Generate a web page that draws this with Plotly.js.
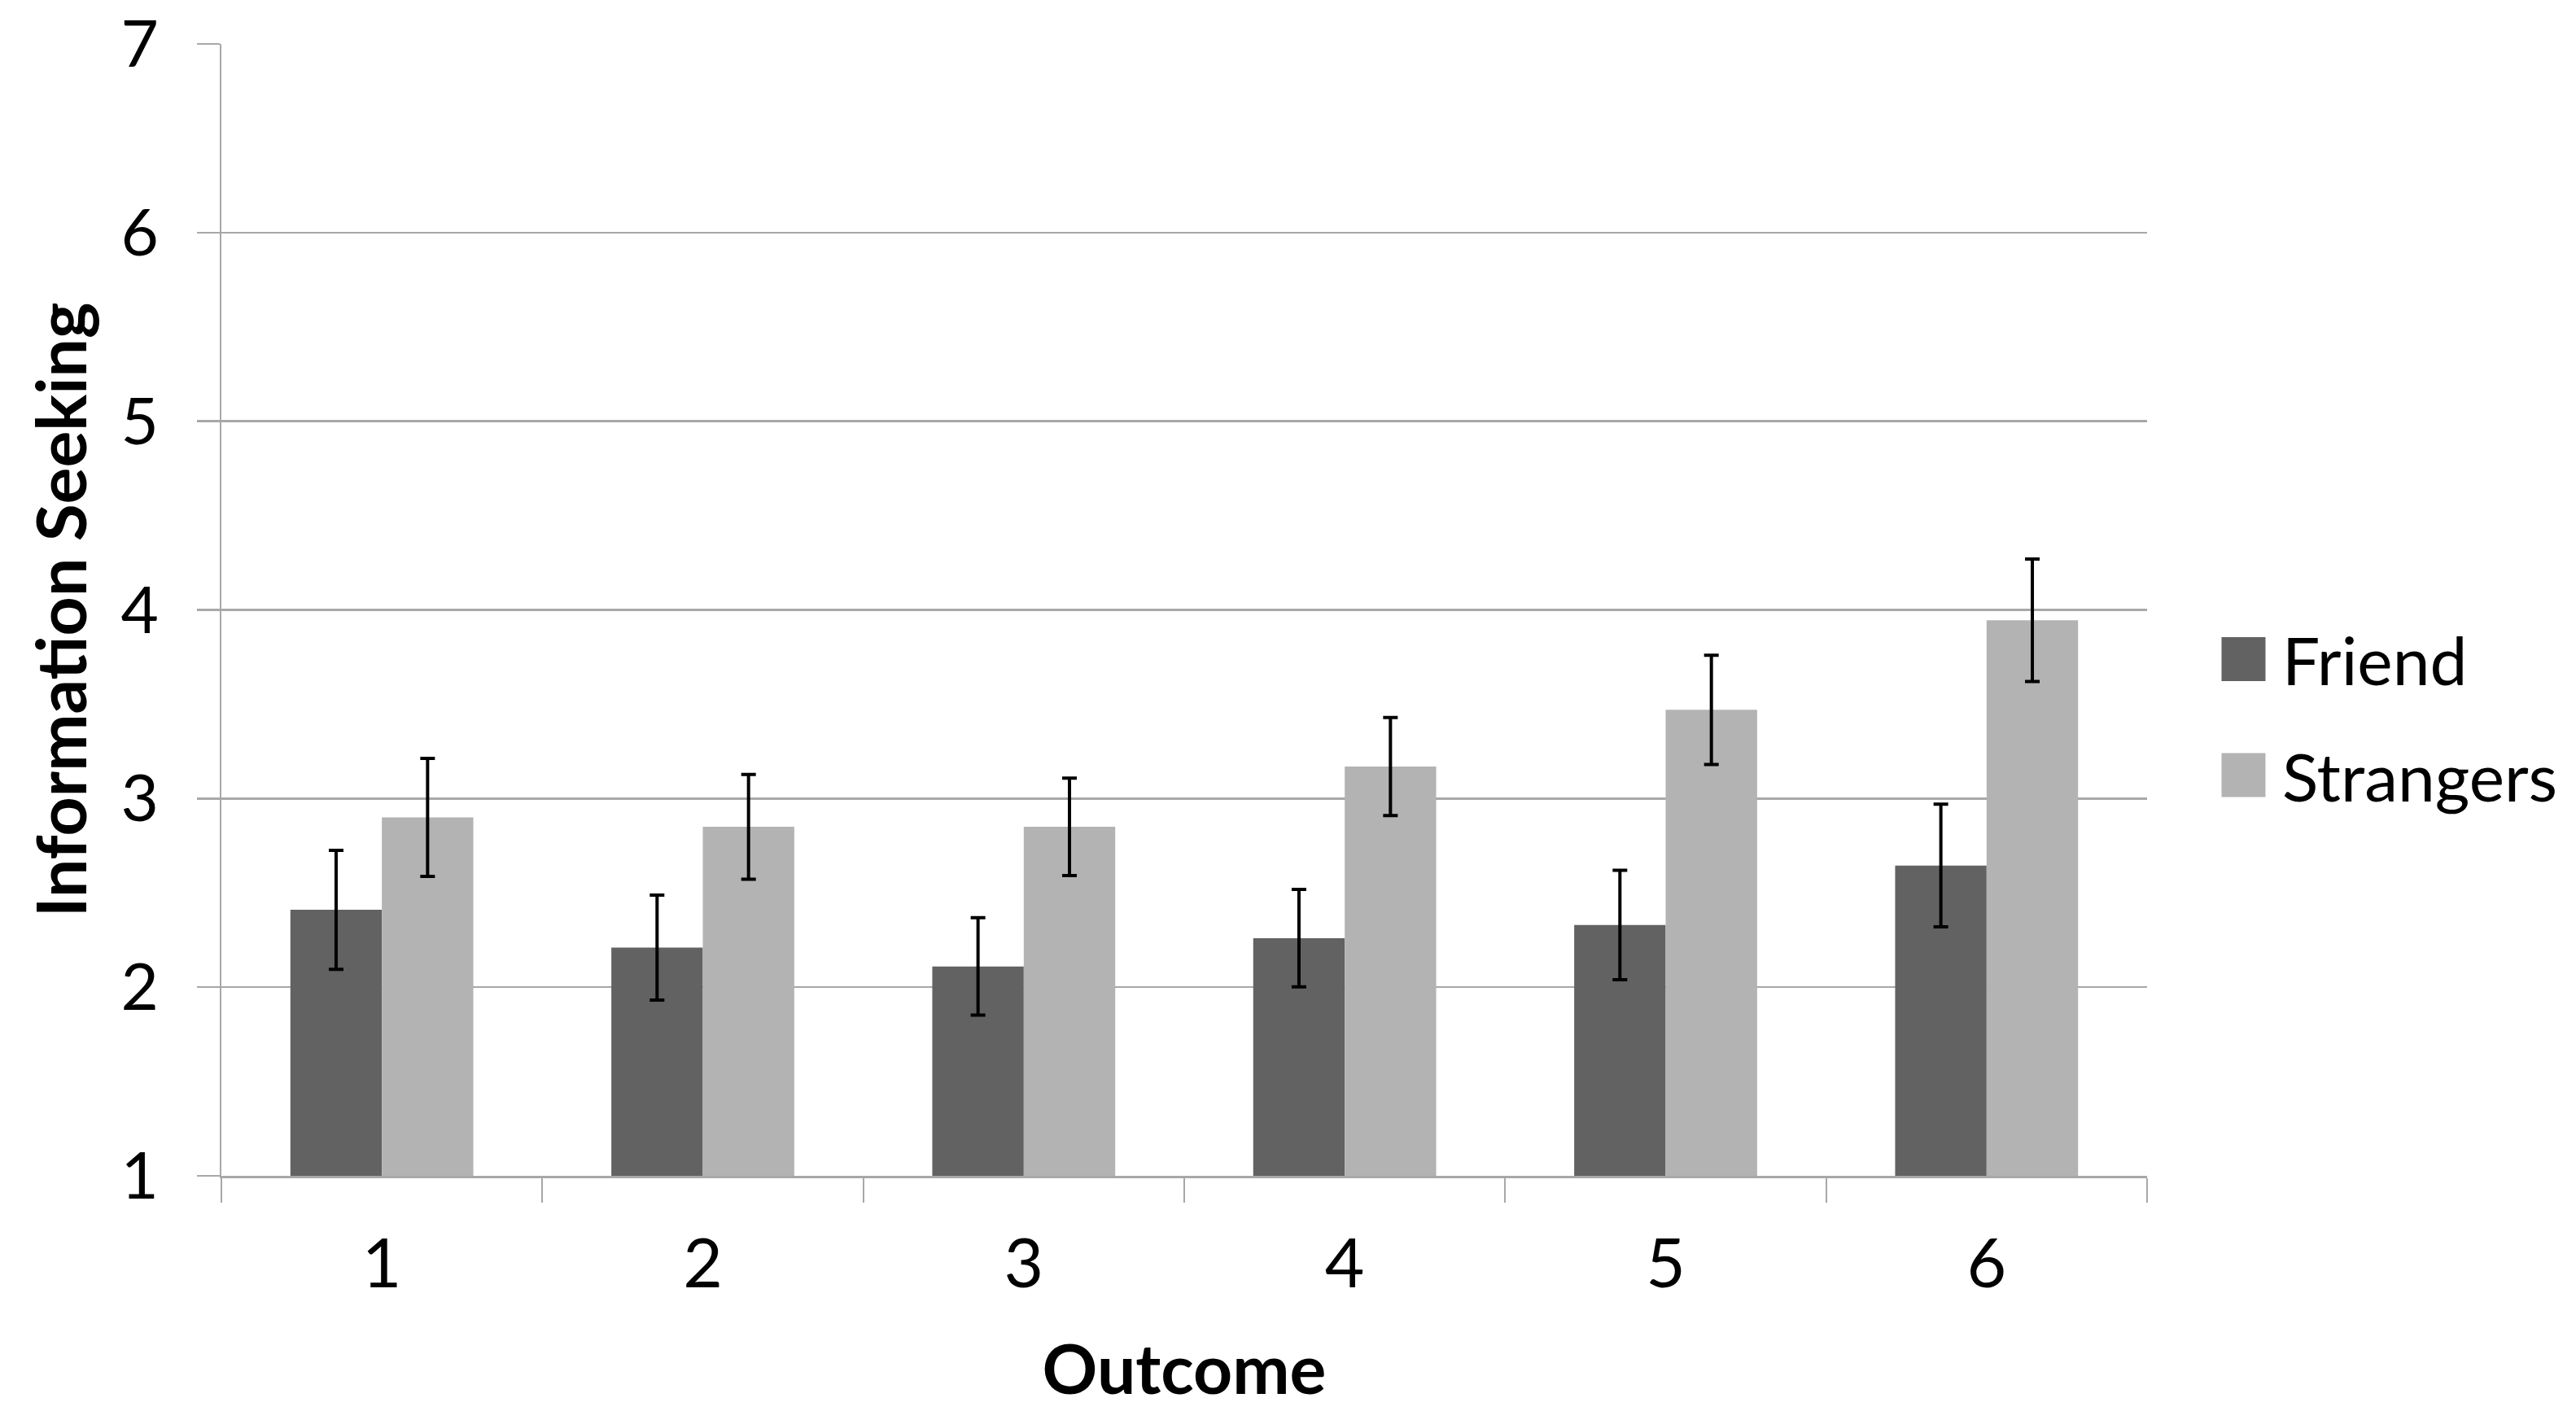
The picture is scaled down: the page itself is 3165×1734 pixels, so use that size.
<!DOCTYPE html>
<html>
<head>
<meta charset="utf-8">
<script src="https://cdn.plot.ly/plotly-3.0.1.min.js"></script>
<style>
html,body{margin:0;padding:0;background:#fff;}
#chart{width:3165px;height:1734px;}
</style>
</head>
<body>
<div id="chart"></div>
<script>
const outcomes = ['1', '2', '3', '4', '5', '6'];
const friendMeans = [2.41, 2.21, 2.11, 2.26, 2.33, 2.645];
const friendErr = [0.315, 0.278, 0.258, 0.258, 0.29, 0.325];
const strangerMeans = [2.90, 2.85, 2.85, 3.17, 3.47, 3.945];
const strangerErr = [0.313, 0.278, 0.258, 0.26, 0.29, 0.325];
const seriesNames = ['Friend', 'Strangers'];
const yTicks = [1, 2, 3, 4, 5, 6, 7];

const FONT = 'Lato, "Open Sans", sans-serif';
const GRID = '#a8a8a8';

const errStyle = {type: 'data', visible: true, color: '#000', thickness: 4, width: 9};

const traces = [
  {
    type: 'bar', name: seriesNames[0], x: outcomes, y: friendMeans,
    marker: {color: '#626262', line: {width: 0}},
    error_y: Object.assign({array: friendErr}, errStyle),
    legendgroup: 'a'
  },
  {
    type: 'bar', name: seriesNames[1], x: outcomes, y: strangerMeans,
    marker: {color: '#b3b3b3', line: {width: 0}},
    error_y: Object.assign({array: strangerErr}, errStyle),
    legendgroup: 'b'
  }
];

const layout = {
  width: 3165, height: 1734,
  paper_bgcolor: '#fff', plot_bgcolor: '#fff',
  margin: {l: 272, r: 527, t: 54, b: 289},
  font: {family: FONT, color: '#000'},
  barmode: 'group', bargap: 0.43, bargroupgap: 0,
  showlegend: true,
  legend: {
    x: 1.03, xanchor: 'left', y: 0.405, yanchor: 'middle',
    font: {size: 82, family: FONT, color: '#000'},
    itemwidth: 85, tracegroupgap: 33, bgcolor: 'rgba(0,0,0,0)', borderwidth: 0
  },
  xaxis: {
    type: 'category', categoryorder: 'array', categoryarray: outcomes,
    showline: true, linecolor: GRID, linewidth: 2.5,
    ticks: 'outside', tickson: 'boundaries', ticklen: 30, tickcolor: GRID, tickwidth: 2,
    tickfont: {size: 84, family: FONT, color: '#000'},
    ticklabelstandoff: 34,
    showgrid: false, zeroline: false,
    title: {text: 'Outcome', font: {size: 84, family: FONT, weight: 'bold', color: '#000'}, standoff: 55}
  },
  yaxis: {
    range: [1, 7], tickvals: yTicks, ticktext: yTicks.map(String),
    showline: true, linecolor: GRID, linewidth: 2,
    ticks: 'outside', ticklen: 28, tickcolor: GRID, tickwidth: 2.5,
    tickfont: {size: 80, family: FONT, color: '#000'},
    ticklabelstandoff: 31,
    showgrid: true, gridcolor: GRID, gridwidth: 2.5, zeroline: false,
    title: {text: 'Information Seeking', font: {size: 84, family: FONT, weight: 'bold', color: '#000'}, standoff: 14}
  }
};

Plotly.newPlot('chart', traces, layout, {staticPlot: true, displayModeBar: false}).then(function () {
  document.querySelectorAll('.legend .legendpoints path').forEach(function (p) {
    const t = p.getAttribute('transform') || '';
    p.setAttribute('transform', t + ' scale(4.5)');
  });
});
</script>
</body>
</html>
